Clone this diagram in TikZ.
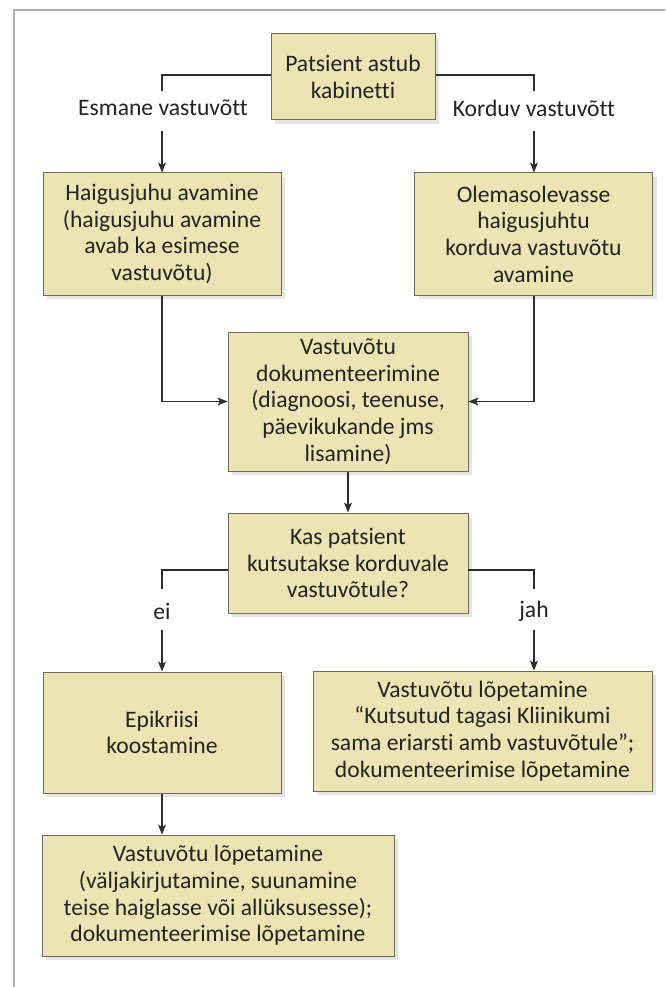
\documentclass[tikz,border=0pt]{standalone}
\usepackage{fontspec}
\setmainfont[Ligatures=NoCommon]{Carlito}
\usetikzlibrary{arrows.meta,shadows}
\definecolor{boxfill}{RGB}{237,228,179}
\definecolor{boxline}{RGB}{110,106,90}
\definecolor{conn}{RGB}{45,45,45}
\definecolor{frame}{RGB}{175,175,175}
\definecolor{txt}{RGB}{35,35,35}
\begin{document}
\begin{tikzpicture}[x=1pt,y=-1pt,
  box/.style={draw=boxline,line width=1pt,fill=boxfill,align=center,inner sep=0pt,text=txt,
    font=\fontsize{23.6}{26.7}\selectfont,
    drop shadow={shadow xshift=4pt,shadow yshift=-4pt,fill=black!10,opacity=1}},
  lbl/.style={font=\fontsize{23.6}{26.7}\selectfont,inner sep=0pt,text=txt},
  conline/.style={draw=conn,line width=1.2pt},
  arr/.style={conline,-{Stealth[length=10pt,width=8pt,inset=2.5pt]}}]
\useasboundingbox (0,0) rectangle (665,987);
\fill[white] (0,0) rectangle (665,987);
\draw[frame,line width=1.5pt] (14,987) -- (14,10) -- (665,10);

\node[box,minimum width=164,minimum height=86] (top) at (353,77) {Patsient astub\\kabinetti};
\node[box,minimum width=238,minimum height=122] (left1) at (162,234) {Haigusjuhu avamine\\(haigusjuhu avamine\\avab ka esimese\\vastuvõtu)};
\node[box,minimum width=238,minimum height=122] (right1) at (533.5,234) {Olemasolevasse\\haigusjuhtu\\korduva vastuvõtu\\avamine};
\node[box,minimum width=240,minimum height=139] (mid) at (348,401.5) {Vastuvõtu\\dokumenteerimine\\(diagnoosi, teenuse,\\päevikukande jms\\lisamine)};
\node[box,minimum width=240,minimum height=100] (q) at (348,563) {Kas patsient\\kutsutakse korduvale\\vastuvõtule?};
\node[box,minimum width=238,minimum height=121] (epi) at (162,732.5) {Epikriisi\\koostamine};
\node[box,minimum width=339,minimum height=120] (end1) at (482.5,731) {Vastuvõtu lõpetamine\\“Kutsutud tagasi Kliinikumi\\sama eriarsti amb vastuvõtule”;\\dokumenteerimise lõpetamine};
\node[box,minimum width=352,minimum height=121] (end2) at (218,895.5) {Vastuvõtu lõpetamine\\(väljakirjutamine, suunamine\\teise haiglasse või allüksusesse);\\dokumenteerimise lõpetamine};

\node[lbl] (esm) at (163,108) {Esmane vastuvõtt};
\node[lbl] (kord) at (534,108) {Korduv vastuvõtt};
\node[lbl] (ei) at (162,611) {ei};
\node[lbl] (jah) at (534,611) {jah};

\coordinate (esmtop) at (162,91);
\coordinate (kordtop) at (534,91);
\coordinate (esmbot) at (162,131);
\coordinate (kordbot) at (534,131);
\coordinate (qw) at (228,570);
\coordinate (qe) at (468,570);
\coordinate (eitop) at (162,589);
\coordinate (jahtop) at (534,589);
\coordinate (eibot) at (162,630);
\coordinate (jahbot) at (534,630);

\draw[conline] (top.west |- 0,75) -| (esmtop);
\draw[conline] (top.east |- 0,75) -| (kordtop);
\draw[arr] (esmbot) -- (left1.north);
\draw[arr] (kordbot) -- (right1.north -| kordbot);
\draw[arr] (left1.south) |- (mid.west);
\draw[arr] (right1.south -| kordbot) |- (mid.east);
\draw[arr] (mid.south) -- (q.north);
\draw[conline] (qw) -| (eitop);
\draw[conline] (qe) -| (jahtop);
\draw[arr] (eibot) -- (epi.north);
\draw[arr] (jahbot) -- (end1.north -| jahbot);
\draw[arr] (epi.south) -- (epi.south |- end2.north);
\end{tikzpicture}
\end{document}
